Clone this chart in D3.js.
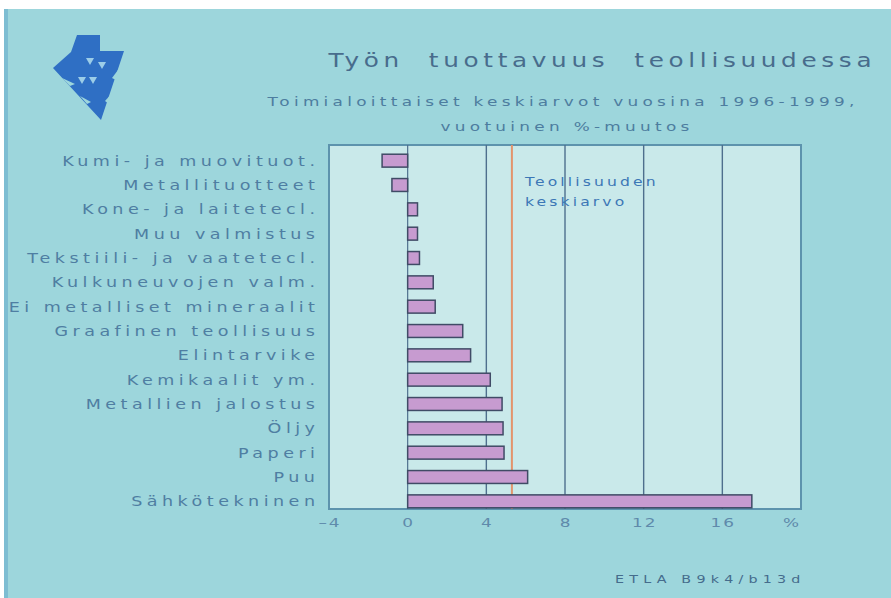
<!DOCTYPE html>
<html>
<head>
<meta charset="utf-8">
<script src="https://cdn.jsdelivr.net/npm/d3@7"></script>
<style>
  html, body { margin: 0; padding: 0; background: #ffffff; }
  svg { display: block; }
  text { font-family: "DejaVu Sans", sans-serif; }
</style>
</head>
<body>
<svg id="chart" width="891" height="598"></svg>
<script>
// Industry branches, top to bottom
const categories = [
  "Kumi- ja muovituot.",
  "Metallituotteet",
  "Kone- ja laitetecl.",
  "Muu valmistus",
  "Tekstiili- ja vaatetecl.",
  "Kulkuneuvojen valm.",
  "Ei metalliset mineraalit",
  "Graafinen teollisuus",
  "Elintarvike",
  "Kemikaalit ym.",
  "Metallien jalostus",
  "Öljy",
  "Paperi",
  "Puu",
  "Sähkötekninen"
];
// Average annual change in labour productivity, %
const values = [-1.3, -0.8, 0.5, 0.5, 0.6, 1.3, 1.4, 2.8, 3.2, 4.2, 4.8, 4.85, 4.9, 6.1, 17.5];
// Manufacturing average
const industryAverage = 5.3;
const tickValues = [-4, 0, 4, 8, 12, 16];
const unitLabel = "%";

const titleText = "Työn  tuottavuus  teollisuudessa";
const subtitleLines = ["Toimialoittaiset keskiarvot vuosina 1996-1999,", "vuotuinen %-muutos"];
const averageLabel = ["Teollisuuden", "keskiarvo"];
const sourceText = "ETLA B9k4/b13d";

const svg = d3.select("#chart");
const slideBg = "#9dd6dc";

// Wide lettering: text drawn inside a horizontally stretched group
function wideText(parent, x, y, str, o) {
  const sx = o.sx || 1.3;
  const ls = o.ls || 0;
  const anchor = o.anchor || "start";
  // trailing letter-spacing shifts end/middle anchored text; compensate
  const shift = anchor === "end" ? ls * sx : anchor === "middle" ? ls * sx / 2 : 0;
  const g = parent.append("g").attr("transform", `translate(${x + shift},${y}) scale(${sx},1)`);
  return g.append("text")
    .attr("text-anchor", anchor)
    .attr("font-size", o.size)
    .attr("letter-spacing", ls)
    .attr("dy", o.dy || null)
    .attr("fill", o.fill)
    .style("white-space", "pre")
    .text(str);
}

// Slide background
svg.append("rect").attr("x", 4).attr("y", 9).attr("width", 887).attr("height", 589).attr("fill", slideBg);
svg.append("rect").attr("x", 4).attr("y", 9).attr("width", 4).attr("height", 589).attr("fill", "#7dbdd2");

// Logo: downward arrow built from triangles
const logo = svg.append("g");
logo.append("path")
  .attr("d", "M77,35 L100,35 L100,51 L124,51 L101,120 L53,68 L71,52 Z")
  .attr("fill", "#2f6fc4");
// serrated edges
[[[116, 80], [121, 66], [112, 78]], [[109, 104], [113, 92], [105, 101]],
 [[70, 86], [62, 78], [75, 84]], [[87, 104], [80, 96], [91, 102]]].forEach(pts => {
  logo.append("path").attr("d", "M" + pts.map(p => p.join(",")).join("L") + "Z").attr("fill", slideBg);
});
// light inner triangles
[[90, 58], [102, 62], [82, 77], [93, 77]].forEach(([cx, cy]) => {
  logo.append("path")
    .attr("d", `M${cx - 4},${cy} L${cx + 4},${cy} L${cx},${cy + 7} Z`)
    .attr("fill", "#9ccde8");
});

// Titles
wideText(svg, 600, 67, titleText, { size: 19, sx: 1.3, ls: 3.6, anchor: "middle", fill: "#486c8c" });
wideText(svg, 561, 106, subtitleLines[0], { size: 13, sx: 1.3, ls: 3.3, anchor: "middle", fill: "#4d7d9f" });
wideText(svg, 565, 131, subtitleLines[1], { size: 13, sx: 1.3, ls: 3.3, anchor: "middle", fill: "#4d7d9f" });

// Plot area
const plot = { left: 329, right: 801, top: 145, bottom: 509 };
const x = d3.scaleLinear().domain([-4, 20]).range([plot.left, plot.right]);
const y = d3.scaleBand().domain(categories).range([148.5, 513.5]).paddingInner(0.47).paddingOuter(0.235);

svg.append("rect")
  .attr("x", plot.left).attr("y", plot.top)
  .attr("width", plot.right - plot.left).attr("height", plot.bottom - plot.top)
  .attr("fill", "#c9e9ea").attr("stroke", "#5d93ad").attr("stroke-width", 2);

// Vertical gridlines
svg.append("g").selectAll("line").data(tickValues.filter(t => t > -4)).join("line")
  .attr("x1", d => x(d)).attr("x2", d => x(d))
  .attr("y1", plot.top).attr("y2", plot.bottom)
  .attr("stroke", "#4e6f8d").attr("stroke-width", d => d === 0 ? 1.2 : 1.4);

// Average line
svg.append("line")
  .attr("x1", x(industryAverage)).attr("x2", x(industryAverage))
  .attr("y1", plot.top).attr("y2", plot.bottom)
  .attr("stroke", "#e3946c").attr("stroke-width", 2);
averageLabel.forEach((s, i) => {
  wideText(svg, 525, 186 + i * 20, s, { size: 12, sx: 1.3, ls: 2.4, fill: "#3c77b6" });
});

// Bars
svg.append("g").selectAll("rect").data(values).join("rect")
  .attr("x", d => x(Math.min(0, d)))
  .attr("width", d => Math.abs(x(d) - x(0)))
  .attr("y", (d, i) => y(categories[i]))
  .attr("height", y.bandwidth())
  .attr("fill", "#c79bd0").attr("stroke", "#404b66").attr("stroke-width", 1.5);

// Category labels
const labelG = svg.append("g");
categories.forEach(c => {
  wideText(labelG, 315, y(c) + y.bandwidth() / 2, c,
    { size: 13.5, sx: 1.3, ls: 3.45, anchor: "end", dy: "0.36em", fill: "#4f7ea2" });
});

// X axis labels
const axisG = svg.append("g");
tickValues.forEach(t => {
  wideText(axisG, x(t), 527, t < 0 ? "\u2013" + Math.abs(t) : String(t),
    { size: 13, sx: 1.3, ls: 1.5, anchor: "middle", fill: "#5f8aab" });
});
wideText(axisG, x(20) - 10, 527, unitLabel, { size: 13, sx: 1.3, ls: 0, anchor: "middle", fill: "#5f8aab" });

// Source
wideText(svg, 615, 583, sourceText, { size: 11, sx: 1.3, ls: 4, fill: "#456c8c" });
</script>
</body>
</html>
